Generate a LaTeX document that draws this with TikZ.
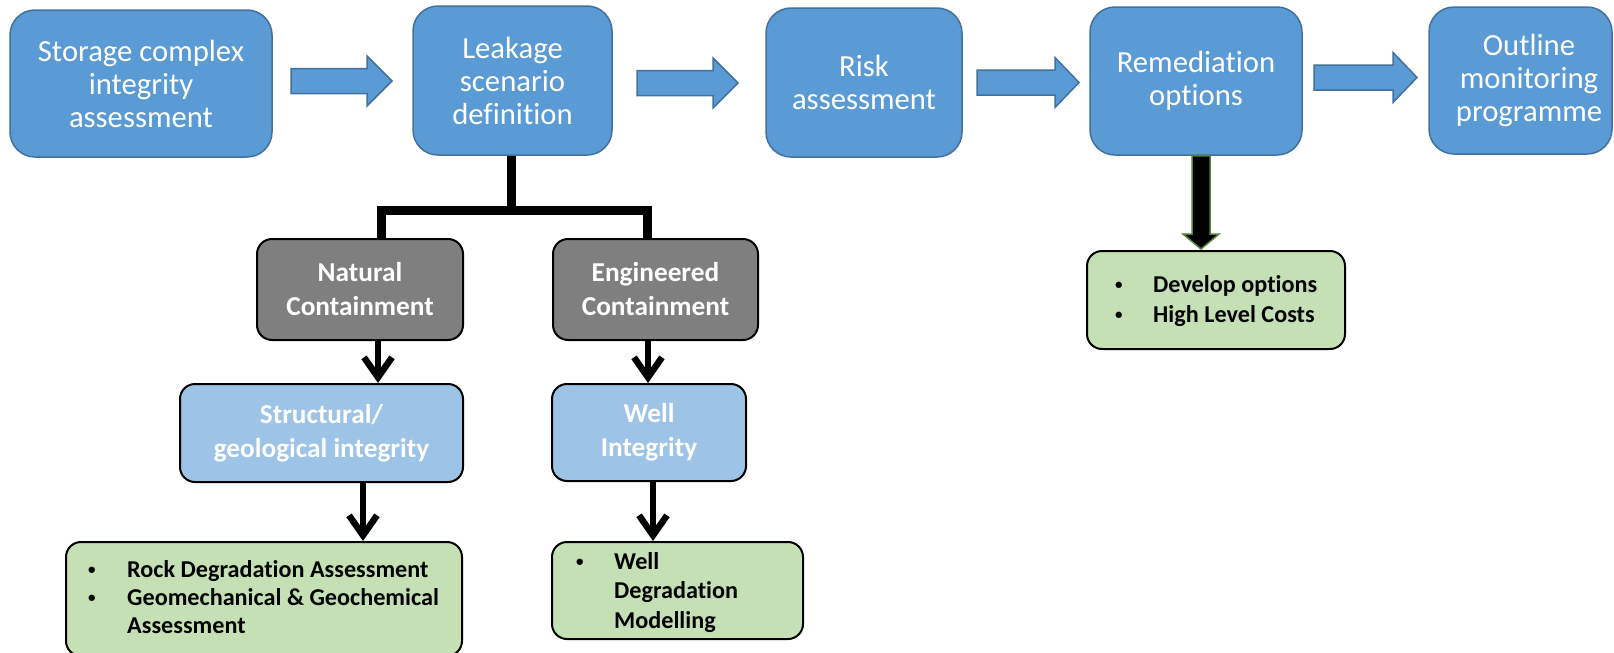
\documentclass[tikz,border=0pt]{standalone}
\usepackage{fontspec}
\setmainfont{Carlito}[Ligatures=NoCommon]
\usetikzlibrary{arrows.meta,calc}
\definecolor{bblue}{HTML}{5B9BD5}
\definecolor{bblueline}{HTML}{41719C}
\definecolor{gbox}{HTML}{7F7F7F}
\definecolor{lblue}{HTML}{9DC3E6}
\definecolor{lgreen}{HTML}{C5E0B4}
\definecolor{dgreen}{HTML}{548235}
\newcommand\hblock[4]{%
  \draw[blockarr] (#1,#4-12.5) -- (#2,#4-12.5) -- (#2,#4-25) -- (#3,#4) -- (#2,#4+25) -- (#2,#4+12.5) -- (#1,#4+12.5) -- cycle;}
\newcommand\bul{\raisebox{2.5pt}{\fontsize{15}{15}\selectfont\textbullet}}
\begin{document}
\begin{tikzpicture}[x=1pt,y=-1pt,
  bigbox/.style={draw=bblueline, line width=1.5pt, fill=bblue, rounded corners=25pt, inner sep=0pt,
    text=white, align=center, font=\fontsize{30.7}{33}\selectfont},
  bigtext/.style={inner sep=0pt, text=white, align=center, font=\fontsize{30.7}{33}\selectfont},
  graybox/.style={draw=black, line width=2pt, fill=gbox, rounded corners=15pt, inner sep=0pt,
    text=white, align=center, font=\bfseries\fontsize{27.3}{34}\selectfont},
  lbbox/.style={graybox, fill=lblue},
  grbox/.style={draw=black, line width=2pt, fill=lgreen, rounded corners=15pt, inner sep=0pt},
  grtext/.style={inner sep=0pt, anchor=base west},
  flow/.style={line width=6.5pt, -{Straight Barb[length=20pt,width=28pt]}},
  tree/.style={line width=9pt, line join=miter},
  blockarr/.style={draw=bblueline, line width=1.5pt, fill=bblue, line join=miter},
]
\useasboundingbox (0,0) rectangle (1614,653);
\clip (0,0) rectangle (1614,653);

% top row
\node[bigbox, minimum width=262, minimum height=147] (b1) at (141,83.5) {Storage complex\\integrity\\assessment};
\node[bigbox, minimum width=199, minimum height=149] (b2) at (512.5,80.5) {Leakage\\scenario\\definition};
\node[bigbox, minimum width=196, minimum height=149] (b3) at (864,82.5) {Risk\\assessment};
\node[bigbox, minimum width=212, minimum height=148] (b4) at (1196,81) {Remediation\\options};
\node[bigbox, minimum width=183, minimum height=147] (b5) at (1520.5,80.5) {};
\node[bigtext] (b5t) at (1529,80.5) {Outline\\monitoring\\programme};

\hblock{291}{367}{392}{81}
\hblock{637}{713}{738}{83}
\hblock{977}{1055}{1079}{82.5}
\hblock{1314}{1393}{1417}{77.5}

% containment boxes
\node[graybox, minimum width=206, minimum height=101] (nat) at (360,289.5) {Natural\\Containment};
\node[graybox, minimum width=205, minimum height=101] (eng) at (655.5,289.5) {Engineered\\Containment};
\node[lbbox, minimum width=283, minimum height=98] (str) at (321.5,433) {Structural/\\geological integrity};
\node[lbbox, minimum width=194, minimum height=97] (well) at (649,432.5) {Well\\Integrity};

% green boxes
\node[grbox, minimum width=396, minimum height=114] (g1) at (264,599) {};
\node[grbox, minimum width=251, minimum height=97] (g2) at (677.5,590.5) {};
\node[grbox, minimum width=258, minimum height=98] (g3) at (1216,300) {};

\node[grtext, font=\bfseries\fontsize{24.2}{28}\selectfont] (g1t) at (88,577)
  {\begin{tabular}[t]{@{}p{39pt}@{}l@{}}\bul & Rock Degradation Assessment\\
   \bul & Geomechanical \& Geochemical\\ & Assessment\end{tabular}};
\node[grtext, font=\bfseries\fontsize{24.2}{29.5}\selectfont] (g2t) at (576,569)
  {\begin{tabular}[t]{@{}p{38pt}@{}l@{}}\bul & Well\\ & Degradation\\ & Modelling\end{tabular}};
\node[grtext, font=\bfseries\fontsize{24.2}{30}\selectfont] (g3t) at (1115,292)
  {\begin{tabular}[t]{@{}p{38pt}@{}l@{}}\bul & Develop options\\ \bul & High Level Costs\end{tabular}};

% tree connector
\coordinate (j) at (511.5,210);
\coordinate (dl) at (381.5,0);
\coordinate (dr) at (647.5,0);
\draw[tree] (b2.south -| j) -- (j);
\draw[tree] (nat.north -| dl) |- (j) -| (eng.north -| dr);

% flow arrows
\coordinate (x1) at (378,0);
\coordinate (x2) at (648,0);
\coordinate (x3) at (363,0);
\coordinate (x4) at (653,0);
\draw[flow] (nat.south -| x1) -- (str.north -| x1);
\draw[flow] (eng.south -| x2) -- (well.north -| x2);
\draw[flow] (str.south -| x3) -- (g1.north -| x3);
\draw[flow] (well.south -| x4) -- (g2.north -| x4);

% remediation block arrow
\coordinate (rt) at ($(b4.south)+(5,0)$);
\coordinate (rb) at ($(g3.north -| rt)+(0,-1)$);
\draw[draw=dgreen, fill=black, line width=1.5pt, line join=miter]
  ($(rt)+(-9,0)$) -- ($(rb)+(-9,-15)$) -- ($(rb)+(-18,-15)$) -- (rb) -- ($(rb)+(18,-15)$) -- ($(rb)+(9,-15)$) -- ($(rt)+(9,0)$) -- cycle;
\end{tikzpicture}
\end{document}
